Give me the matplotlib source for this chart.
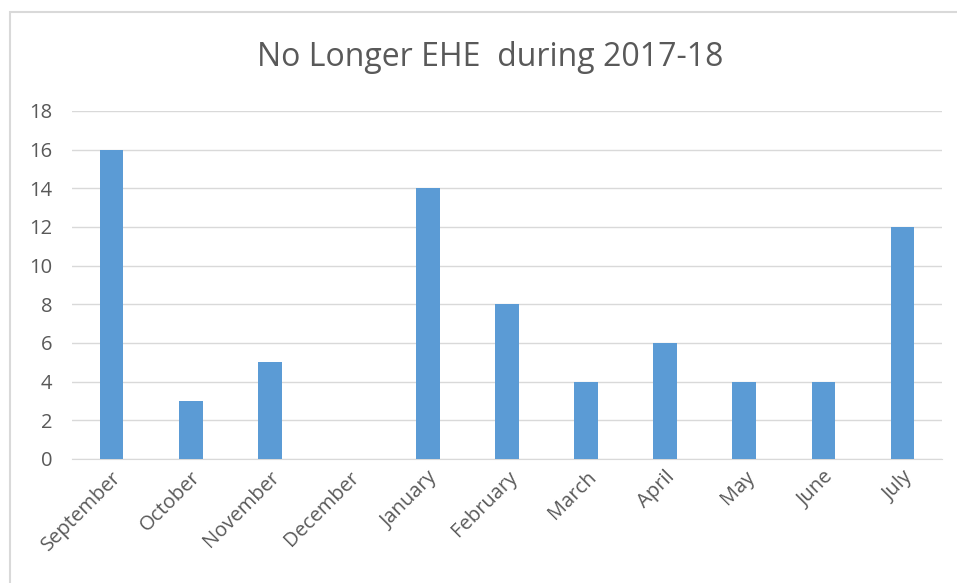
import matplotlib
matplotlib.use("Agg")
import matplotlib.pyplot as plt
from matplotlib.patches import Rectangle

plt.rcParams['font.family'] = ['Open Sans', 'DejaVu Sans']

months = ['September', 'October', 'November', 'December', 'January',
          'February', 'March', 'April', 'May', 'June', 'July']
counts = [16, 3, 5, 0, 14, 8, 4, 6, 4, 4, 12]
yticks = [0, 2, 4, 6, 8, 10, 12, 14, 16, 18]

text_col = '#595959'
grid_col = '#d9d9d9'

fig = plt.figure(figsize=(9.57, 5.83), dpi=100)
# outer chart frame
fig.patches.append(Rectangle((10 / 957, -0.1), 1.1, 1 - 12 / 583 + 0.1,
                             transform=fig.transFigure, fill=False,
                             edgecolor=grid_col, linewidth=1.5))

ax = fig.add_axes([72 / 957, 1 - 459 / 583, 870 / 957, 348 / 583])
x = list(range(len(months)))
ax.bar(x, counts, width=0.3, color='#5b9bd5', zorder=3)

ax.set_xlim(-0.5, len(months) - 0.5)
ax.set_ylim(0, 18)
ax.set_yticks(yticks)
ax.yaxis.grid(True, color=grid_col, linewidth=1)
ax.set_axisbelow(True)
for s in ['top', 'right', 'left']:
    ax.spines[s].set_visible(False)
ax.spines['bottom'].set_color(grid_col)
ax.tick_params(axis='both', length=0, colors=text_col, labelsize=14.5)
ax.tick_params(axis='y', pad=14)
ax.set_xticks(x)
ax.set_xticklabels(months, rotation=45, ha='right', rotation_mode='anchor')
ax.tick_params(axis='x', pad=6)

fig.text(490 / 957, 1 - 57 / 583, 'No Longer EHE  during 2017-18',
         ha='center', va='center', fontsize=23, color=text_col)

fig.savefig('out.png', dpi=100)
